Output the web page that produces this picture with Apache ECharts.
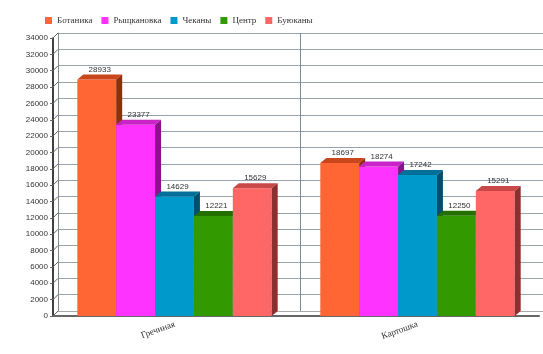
<!DOCTYPE html>
<html>
<head>
<meta charset="utf-8">
<script src="https://cdn.jsdelivr.net/npm/echarts@6/dist/echarts.min.js"></script>
<style>
  html, body { margin: 0; background: #fff; }
  #chart { width: 543px; height: 354px; }
</style>
</head>
<body>
<div id="chart"></div>
<script>
var categories = ['Гречиная', 'Картошка'];
var regions = ['Ботаника', 'Рыщкановка', 'Чеканы', 'Центр', 'Буюканы'];
var botanica = [28933, 18697];
var riscanovka = [23377, 18274];
var ciocana = [14629, 17242];
var centru = [12221, 12250];
var buiucani = [15629, 15291];
var yTicks = [0, 2000, 4000, 6000, 8000, 10000, 12000, 14000, 16000, 18000,
  20000, 22000, 24000, 26000, 28000, 30000, 32000, 34000];

// front, top, side
var faces = [
  ['#ff6633', '#c9471c', '#8e2f0e'],
  ['#ff33ff', '#c824c8', '#8a138a'],
  ['#0099cc', '#00709a', '#004f6e'],
  ['#339900', '#237000', '#174d00'],
  ['#ff6666', '#c94848', '#8e2e2e']
];
var seriesValues = [botanica, riscanovka, ciocana, centru, buiucani];

var dx = 6, dy = 5;

function barItem(idx) {
  var f = faces[idx];
  return function (params, api) {
    var c = api.value(0), v = api.value(1);
    var p = api.coord([c, v]);
    var p0 = api.coord([c, 0]);
    var cw = api.size([1, 0])[0];
    var bw = cw * 0.8 / 5;
    var x = p[0] - cw * 0.4 + idx * bw;
    var y = p[1], yb = p0[1];
    return {
      type: 'group',
      children: [
        { type: 'rect', shape: { x: x, y: y, width: bw, height: yb - y }, style: { fill: f[0] } },
        { type: 'polygon', shape: { points: [[x, y], [x + dx, y - dy], [x + bw + dx, y - dy], [x + bw, y]] }, style: { fill: f[1] } },
        { type: 'polygon', shape: { points: [[x + bw, y], [x + bw + dx, y - dy], [x + bw + dx, yb - dy], [x + bw, yb]] }, style: { fill: f[2] } },
        { type: 'text', style: { text: String(v), x: x + bw / 2 + dx / 2, y: y - dy - 1, align: 'center', verticalAlign: 'bottom',
          font: '8px "Liberation Sans"', fill: '#333' } }
      ]
    };
  };
}

var series = [];
// back-wall diagonals from front axis to wall
series.push({
  type: 'custom',
  name: 'wall',
  xAxisIndex: 0, yAxisIndex: 0,
  silent: true,
  data: yTicks.map(function (t) { return [0, t]; }),
  renderItem: function (params, api) {
    var p = api.coord([0, api.value(1)]);
    var x0 = params.coordSys.x;
    return { type: 'line', shape: { x1: x0, y1: p[1], x2: x0 + 5, y2: p[1] - 5 }, style: { stroke: '#666', lineWidth: 1 } };
  },
  z: 1
});
regions.forEach(function (name, i) {
  series.push({
    type: 'custom',
    name: name,
    xAxisIndex: 0, yAxisIndex: 0,
    itemStyle: { color: faces[i][0] },
    data: seriesValues[i].map(function (v, c) { return [c, v]; }),
    encode: { x: 0, y: 1 },
    renderItem: barItem(i),
    z: 3
  });
});

var chart = echarts.init(document.getElementById('chart'));
chart.setOption({
  animation: false,
  backgroundColor: '#fff',
  legend: {
    data: regions,
    left: 40, top: 11,
    icon: 'rect',
    itemWidth: 7, itemHeight: 7,
    itemGap: 9,
    textStyle: { fontFamily: 'Liberation Serif', fontSize: 9, color: '#333' }
  },
  grid: [
    { left: 53, right: 4, top: 38, bottom: 38 },
    { left: 58, right: -1, top: 33, bottom: 43 }
  ],
  xAxis: [
    {
      type: 'category', gridIndex: 0, data: categories,
      axisLine: { lineStyle: { color: '#666', width: 2 } },
      axisTick: { show: false },
      axisLabel: { rotate: 20, margin: 8, fontFamily: 'Liberation Serif', fontSize: 9, color: '#333' },
      splitLine: { show: false }
    },
    {
      type: 'category', gridIndex: 1, data: categories,
      axisLine: { lineStyle: { color: '#aaa', width: 1 } },
      axisTick: { show: false },
      axisLabel: { show: false },
      splitLine: { show: true, lineStyle: { color: '#7a8c99', width: 1 } }
    }
  ],
  yAxis: [
    {
      type: 'value', gridIndex: 0, min: 0, max: 34000, interval: 2000,
      axisLine: { show: true, lineStyle: { color: '#000', width: 1.5 } },
      axisTick: { show: true, length: 3, lineStyle: { color: '#666' } },
      axisLabel: { margin: 5, fontFamily: 'Liberation Sans', fontSize: 8, color: '#333',
        formatter: function (v) { return String(v); } },
      splitLine: { show: false }
    },
    {
      type: 'value', gridIndex: 1, min: 0, max: 34000, interval: 2000,
      axisLine: { show: true, lineStyle: { color: '#888', width: 1 } },
      axisTick: { show: false },
      axisLabel: { show: false },
      splitLine: { show: true, lineStyle: { color: '#98a4ad', width: 1 } }
    }
  ],
  series: series
});
</script>
</body>
</html>
